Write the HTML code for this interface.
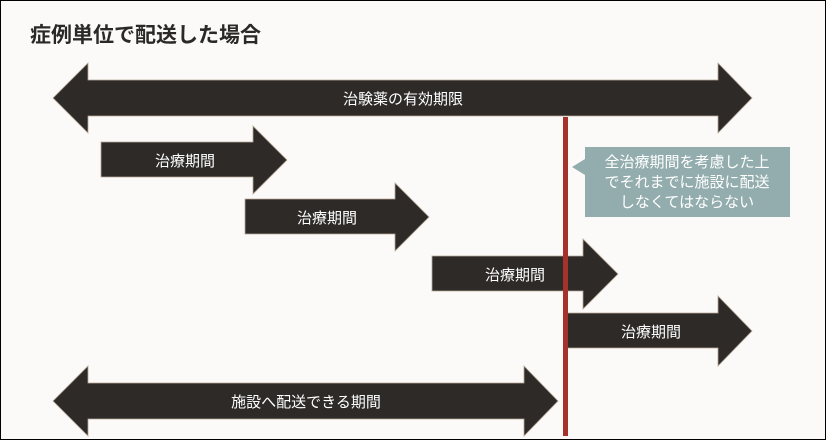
<!DOCTYPE html>
<html><head><meta charset="utf-8"><style>
body{margin:0;width:826px;height:440px;overflow:hidden;background:#fff}
svg{display:block}
text{font-family:"Liberation Sans","Noto Sans CJK JP",sans-serif}
</style></head><body>
<svg width="826" height="440" viewBox="0 0 826 440">
<rect x="0.5" y="0.5" width="825" height="439" fill="#fbfaf8" stroke="#000" stroke-width="1"/>
<text x="30" y="42" font-size="21" font-weight="bold" fill="#2b2826">症例単位で配送した場合</text>
<g fill="#2d2a28" stroke="#b8a898" stroke-width="0.8">
<polygon points="53,98 88,63 88,80 718,80 718,63 752,98 718,133 718,116 88,116 88,133"/>
<polygon points="101,142 253,142 253,126 287,160 253,194 253,177 101,177"/>
<polygon points="245,199 395,199 395,183 429,217 395,251 395,234 245,234"/>
<polygon points="432,256 583,256 583,239 618,274 583,309 583,291 432,291"/>
<polygon points="567,313 718,313 718,296 752,331 718,366 718,348 567,348"/>
<polygon points="53,401 88,366 88,383 524,383 524,366 558,401 524,436 524,419 88,419 88,436"/>
</g>
<g fill="#fff" font-size="15" text-anchor="middle">
<text x="403" y="104">治験薬の有効期限</text>
<text x="185" y="166">治療期間</text>
<text x="327" y="223">治療期間</text>
<text x="515" y="280">治療期間</text>
<text x="651" y="337">治療期間</text>
<text x="306" y="407">施設へ配送できる期間</text>
</g>
<rect x="563" y="117" width="5" height="319" fill="#a6332b"/>
<polygon points="585,147 790,147 790,217 585,217 585,175 572,167 585,159" fill="#93adae"/>
<g fill="#fff" font-size="15" text-anchor="middle">
<text x="687" y="167">全治療期間を考慮した上</text>
<text x="687" y="187">でそれまでに施設に配送</text>
<text x="687" y="207">しなくてはならない</text>
</g>
</svg>
</body></html>
